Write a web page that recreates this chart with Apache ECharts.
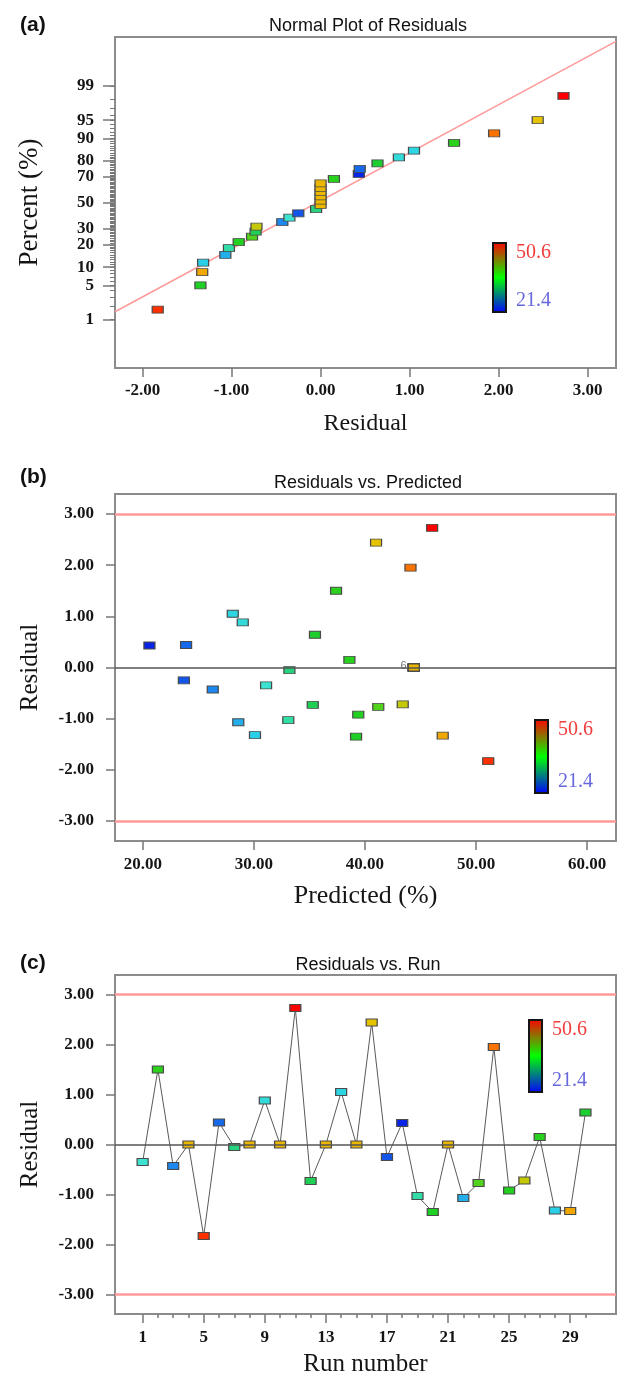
<!DOCTYPE html>
<html><head><meta charset="utf-8">
<script src="https://cdn.jsdelivr.net/npm/echarts@6/dist/echarts.min.js"></script>
<style>html,body{margin:0;padding:0;background:#fff}#c{width:618px;height:1379px}</style>
</head><body><div id="c"></div>
<script>
// ---------------- data ----------------
const runs = [1,2,3,4,5,6,7,8,9,10,11,12,13,14,15,16,17,18,19,20,21,22,23,24,25,26,27,28,29,30];
const residuals = [-0.35,1.50,-0.43,0.00,-1.83,0.44,-0.05,0.00,0.88,0.00,2.73,-0.73,0.00,1.05,0.00,2.44,-0.25,0.43,-1.03,-1.35,0.00,-1.07,-0.77,1.95,-0.92,-0.72,0.15,-1.32,-1.33,0.64];
const predicted = [31.1,37.4,26.3,44.4,51.1,23.9,33.2,44.4,29.0,44.4,46.05,35.3,44.4,28.1,44.4,41.0,23.7,20.6,33.1,39.2,44.4,28.6,41.2,44.1,39.4,43.4,38.6,30.1,47.0,35.5];
const actual = [30.8,38.9,25.9,44.4,49.3,24.3,33.2,44.4,29.9,44.4,50.6,34.6,44.4,29.2,44.4,43.4,23.4,21.4,32.1,37.9,44.4,27.5,40.4,47.4,38.5,42.7,38.8,28.8,45.7,36.1];
const colorRange = [21.4, 50.6];
const percentTicks = [1,5,10,20,30,50,70,80,90,95,99];
const percentMinorTicks = Array.from({length:99},(_, i)=>i+1);
const residualTicks = [-2,-1,0,1,2,3];
const predictedTicks = [20,30,40,50,60];
const residualYTicks = [-3,-2,-1,0,1,2,3];
const runTicks = [1,5,9,13,17,21,25,29];
const controlLimits = [-3, 3];
const normalLine = [[-2.31, 1.5], [3.32, 99.934]]; // [residual, percent]

// ---------------- helpers ----------------
function probit(p){
  const a=[-3.969683028665376e+01,2.209460984245205e+02,-2.759285104469687e+02,1.383577518672690e+02,-3.066479806614716e+01,2.506628277459239e+00];
  const b=[-5.447609879822406e+01,1.615858368580409e+02,-1.556989798598866e+02,6.680131188771972e+01,-1.328068155288572e+01];
  const c=[-7.784894002430293e-03,-3.223964580411365e-01,-2.400758277161838e+00,-2.549732064623470e+00,4.374664141464968e+00,2.938163982698783e+00];
  const d=[7.784695709041462e-03,3.224671290700398e-01,2.445134137142996e+00,3.754408661907416e+00];
  const pl=0.02425, ph=1-pl; let q,r;
  if(p<pl){q=Math.sqrt(-2*Math.log(p));return (((((c[0]*q+c[1])*q+c[2])*q+c[3])*q+c[4])*q+c[5])/((((d[0]*q+d[1])*q+d[2])*q+d[3])*q+1);}
  if(p<=ph){q=p-0.5;r=q*q;return (((((a[0]*r+a[1])*r+a[2])*r+a[3])*r+a[4])*r+a[5])*q/(((((b[0]*r+b[1])*r+b[2])*r+b[3])*r+b[4])*r+1);}
  q=Math.sqrt(-2*Math.log(1-p));return -(((((c[0]*q+c[1])*q+c[2])*q+c[3])*q+c[4])*q+c[5])/((((d[0]*q+d[1])*q+d[2])*q+d[3])*q+1);
}
const zTicks = percentTicks.map(p=>probit(p/100));
const zMinor = percentMinorTicks.map(p=>probit(p/100));
const n = residuals.length;
const order = residuals.map((r,i)=>i).sort((i,j)=>residuals[i]-residuals[j]);
const normalData = order.map((i,k)=>[residuals[i], probit((k+0.5)/n), actual[i]]);

// duplicate count label for panel (b)
const dupKey = (i)=>predicted[i]+'|'+residuals[i];
const counts = {};
residuals.forEach((r,i)=>{counts[dupKey(i)]=(counts[dupKey(i)]||0)+1;});
const seen = {};
const predData = runs.map((r,i)=>{
  const k = dupKey(i), item = {value:[predicted[i], residuals[i], actual[i]]};
  if(counts[k]>1 && !seen[k]){seen[k]=true; item.label={show:true, formatter:String(counts[k]), position:'left', distance:1, color:'#777', fontSize:11, fontFamily:'Liberation Sans', offset:[0,-2]};}
  return item;
});
const runData = runs.map((r,i)=>[r, residuals[i], actual[i]]);

// ---------------- styles ----------------
const SERIF = "'Liberation Serif','Times New Roman',serif";
const SANS = "'Liberation Sans',Arial,sans-serif";
const tickLabel = {fontFamily:SERIF, fontWeight:'bold', fontSize:17, color:'#151515'};
const nameStyle = (s)=>({fontFamily:SERIF, fontSize:s, color:'#151515'});
const tickStyle = {color:'#777', width:1.5};
const noLine = {show:false, onZero:false};
const gridBox = {show:true, borderColor:'#8c8c8c', borderWidth:2, backgroundColor:'transparent'};

const markerSize = [11,7];
const markerStyle = {borderColor:'#4a4a4a', borderWidth:1, opacity:1};
const refLines = {
  silent:true, symbol:'none', label:{show:false},
  data:[
    {yAxis:0, lineStyle:{color:'#555', width:1.5, type:'solid'}},
    {yAxis:controlLimits[0], lineStyle:{color:'#ff9a9a', width:2.5, type:'solid'}},
    {yAxis:controlLimits[1], lineStyle:{color:'#ff9a9a', width:2.5, type:'solid'}}
  ]
};

function colorBar(x, y, h){
  return [
    {type:'rect', shape:{x:x, y:y, width:13, height:h}, z:100,
     style:{fill:new echarts.graphic.LinearGradient(0,0,0,1,[
       {offset:0,color:'#ff0000'},{offset:0.5,color:'#00ff00'},{offset:1,color:'#0000ff'}]),
       stroke:'#151515', lineWidth:2}},
    {type:'text', x:x+23, y:y+10, z:100, style:{text:String(colorRange[1]), font:"20px "+SERIF, fill:'#f03c3c', verticalAlign:'middle'}},
    {type:'text', x:x+23, y:y+h-11, z:100, style:{text:String(colorRange[0]), font:"20px "+SERIF, fill:'#6868dd', verticalAlign:'middle'}}
  ];
}

const chart = echarts.init(document.getElementById('c'), null, {renderer:'canvas'});
chart.setOption({
  animation:false,
  backgroundColor:'#fff',
  title:[
    {text:'(a)', left:15, top:10, textStyle:{fontFamily:SANS, fontWeight:'bold', fontSize:21, color:'#111'}},
    {text:'Normal Plot of Residuals', left:363, top:12, textAlign:'center', textStyle:{fontFamily:SANS, fontWeight:'normal', fontSize:18, color:'#111'}},
    {text:'(b)', left:15, top:462, textStyle:{fontFamily:SANS, fontWeight:'bold', fontSize:21, color:'#111'}},
    {text:'Residuals vs. Predicted', left:363, top:469, textAlign:'center', textStyle:{fontFamily:SANS, fontWeight:'normal', fontSize:18, color:'#111'}},
    {text:'(c)', left:15, top:948, textStyle:{fontFamily:SANS, fontWeight:'bold', fontSize:21, color:'#111'}},
    {text:'Residuals vs. Run', left:363, top:951, textAlign:'center', textStyle:{fontFamily:SANS, fontWeight:'normal', fontSize:18, color:'#111'}}
  ],
  grid:[
    Object.assign({left:115, top:37, width:501, height:331}, gridBox),
    Object.assign({left:115, top:494, width:501, height:347}, gridBox),
    Object.assign({left:115, top:975, width:501, height:339}, gridBox)
  ],
  xAxis:[
    {type:'value', gridIndex:0, position:'bottom', min:-2.31, max:3.32, axisLine:noLine,
     axisTick:{show:true, length:9, lineStyle:tickStyle, customValues:residualTicks},
     axisLabel:{...tickLabel, margin:14, customValues:residualTicks, formatter:v=>v.toFixed(2)},
     splitLine:{show:false}, name:'Residual', nameLocation:'middle', nameGap:44, nameTextStyle:nameStyle(24)},
    {type:'value', gridIndex:1, position:'bottom', min:17.5, max:62.6, axisLine:noLine,
     axisTick:{show:true, length:9, lineStyle:tickStyle, customValues:predictedTicks},
     axisLabel:{...tickLabel, margin:15, customValues:predictedTicks, formatter:v=>v.toFixed(2)},
     splitLine:{show:false}, name:'Predicted (%)', nameLocation:'middle', nameGap:42, nameTextStyle:nameStyle(26)},
    {type:'value', gridIndex:2, position:'bottom', min:-0.81, max:32.0, axisLine:noLine,
     axisTick:{show:true, length:9, lineStyle:tickStyle, customValues:runTicks},
     axisLabel:{...tickLabel, margin:15, customValues:runTicks, formatter:v=>String(Math.round(v))},
     splitLine:{show:false}, name:'Run number', nameLocation:'middle', nameGap:38, nameTextStyle:nameStyle(25)},
    {type:'value', gridIndex:2, position:'bottom', min:-0.81, max:32.0, axisLine:noLine,
     axisTick:{show:true, length:4, lineStyle:tickStyle, customValues:runs},
     axisLabel:{show:false}, splitLine:{show:false}}
  ],
  yAxis:[
    {type:'value', gridIndex:0, position:'left', min:-3.29, max:3.30, axisLine:noLine,
     axisTick:{show:true, length:12, lineStyle:tickStyle, customValues:zTicks},
     axisLabel:{...tickLabel, margin:21, customValues:zTicks, formatter:v=>{
        const i = zTicks.findIndex(z=>Math.abs(z-v)<1e-6); return i>=0 ? String(percentTicks[i]) : '';}},
     splitLine:{show:false}, name:'Percent (%)', nameLocation:'middle', nameGap:72, nameTextStyle:nameStyle(27)},
    {type:'value', gridIndex:0, position:'left', min:-3.29, max:3.30, axisLine:noLine,
     axisTick:{show:true, length:5, lineStyle:{color:'#777', width:1}, customValues:zMinor},
     axisLabel:{show:false}, splitLine:{show:false}},
    {type:'value', gridIndex:1, position:'left', min:-3.39, max:3.39, axisLine:noLine,
     axisTick:{show:true, length:9, lineStyle:tickStyle, customValues:residualYTicks},
     axisLabel:{...tickLabel, margin:21, customValues:residualYTicks, formatter:v=>v.toFixed(2)},
     splitLine:{show:false}, name:'Residual', nameLocation:'middle', nameGap:72, nameTextStyle:nameStyle(25)},
    {type:'value', gridIndex:2, position:'left', min:-3.39, max:3.39, axisLine:noLine,
     axisTick:{show:true, length:9, lineStyle:tickStyle, customValues:residualYTicks},
     axisLabel:{...tickLabel, margin:21, customValues:residualYTicks, formatter:v=>v.toFixed(2)},
     splitLine:{show:false}, name:'Residual', nameLocation:'middle', nameGap:72, nameTextStyle:nameStyle(25)}
  ],
  visualMap:[{
    type:'continuous', show:false, min:colorRange[0], max:colorRange[1], dimension:2, seriesIndex:[1,2,4],
    inRange:{color:['#0a24e6','#1560ea','#1f8ff0','#28cfe8','#3ee6cc','#22d070','#1ccf30','#20d020','#5cd418','#e6c400','#f0a800','#ff5a00','#ff0000']}
  }],
  series:[
    {type:'line', xAxisIndex:0, yAxisIndex:0, data:normalLine.map(p=>[p[0], probit(p[1]/100)]),
     symbol:'none', lineStyle:{color:'#ff9a9a', width:1.5}, silent:true, z:1},
    {type:'scatter', xAxisIndex:0, yAxisIndex:0, data:normalData, symbol:'rect', symbolSize:markerSize, itemStyle:markerStyle, z:3},
    {type:'scatter', xAxisIndex:1, yAxisIndex:2, data:predData, symbol:'rect', symbolSize:markerSize, itemStyle:markerStyle, z:3, markLine:refLines},
    {type:'line', xAxisIndex:2, yAxisIndex:3, data:runData.map(d=>[d[0],d[1]]), symbol:'none',
     lineStyle:{color:'#5a5a5a', width:1}, silent:true, z:2, markLine:refLines},
    {type:'scatter', xAxisIndex:2, yAxisIndex:3, data:runData, symbol:'rect', symbolSize:markerSize, itemStyle:markerStyle, z:3}
  ],
  graphic:[].concat(colorBar(493,243,69), colorBar(535,720,73), colorBar(529,1020,72))
});
</script></body></html>
